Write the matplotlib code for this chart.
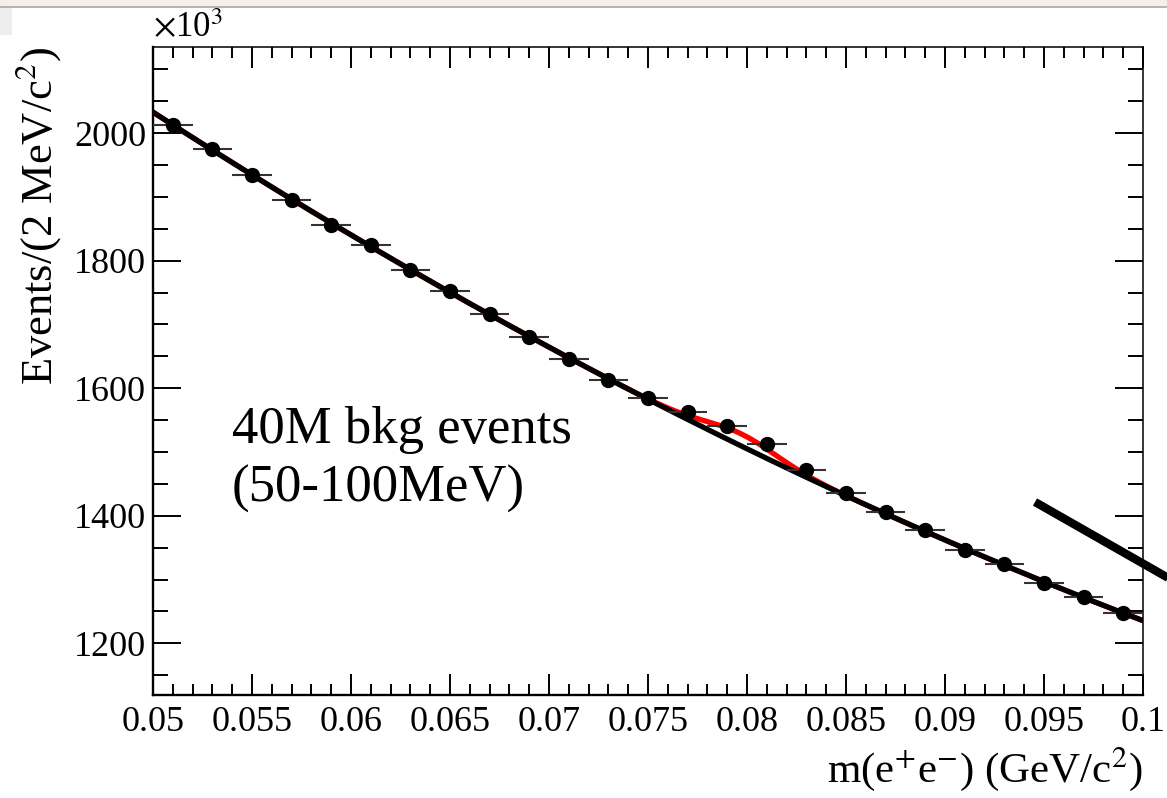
import numpy as np
import matplotlib
matplotlib.use("Agg")
import matplotlib.pyplot as plt
from matplotlib.lines import Line2D
from matplotlib.patches import Rectangle
from matplotlib.ticker import MultipleLocator

plt.rcParams['font.family'] = ['Liberation Serif', 'DejaVu Serif']
plt.rcParams['mathtext.fontset'] = 'stix'

# --- data (events in units of 10^3 per 2 MeV bin) ---
mass = np.array([0.051, 0.053, 0.055, 0.057, 0.059, 0.061, 0.063, 0.065, 0.067,
                 0.069, 0.071, 0.073, 0.075, 0.077, 0.079, 0.081, 0.083, 0.085,
                 0.087, 0.089, 0.091, 0.093, 0.095, 0.097, 0.099])
counts = np.array([2012.5, 1975, 1935, 1895, 1856, 1825, 1786, 1752, 1716,
                   1680, 1646, 1613, 1584, 1562, 1540, 1512, 1471, 1435,
                   1406, 1378, 1347, 1324, 1294, 1272, 1247])
bin_half = 0.001

# signal shape parameters for the red (sig+bkg) curve
sig_mean = 0.0797
sig_width = 0.0018
sig_amp = 19.0

# --- fits ---
sideband = (mass < 0.075) | (mass > 0.085)
bkg_coef = np.polyfit(mass[sideband], counts[sideband], 2)
xf = np.linspace(0.05, 0.1, 500)
bkg = np.polyval(bkg_coef, xf)
total = bkg + sig_amp * np.exp(-0.5 * ((xf - sig_mean) / sig_width) ** 2)

# --- figure ---
fig = plt.figure(figsize=(11.67, 7.98), dpi=100)
ax = fig.add_axes([0.1311, 0.1291, 0.8483, 0.812])

ax.plot(xf, total, color='red', lw=3.8, zorder=2)
ax.plot(xf, bkg, color='black', lw=3.8, zorder=3)
ax.errorbar(mass, counts, xerr=bin_half, fmt='o', color='black', ms=10,
            ecolor='#333333', elinewidth=1.5, capsize=0, zorder=4)

ax.set_xlim(0.05, 0.1)
ax.set_ylim(1119, 2135)

ax.xaxis.set_minor_locator(MultipleLocator(0.001))
ax.yaxis.set_major_locator(MultipleLocator(200))
ax.yaxis.set_minor_locator(MultipleLocator(50))
ax.set_xticks([0.05, 0.055, 0.06, 0.065, 0.07, 0.075, 0.08, 0.085, 0.09, 0.095, 0.1])
ax.set_xticklabels(['0.05', '0.055', '0.06', '0.065', '0.07', '0.075', '0.08',
                    '0.085', '0.09', '0.095', '0.1'])

ax.tick_params(axis='both', which='both', direction='in', top=True, right=True,
               width=1.4, labelsize=26)
ax.tick_params(axis='x', which='major', length=15, pad=8)
ax.tick_params(axis='x', which='minor', length=8)
ax.tick_params(axis='y', which='major', length=20, pad=5)
ax.tick_params(axis='y', which='minor', length=11)
for s in ['left', 'bottom']:
    ax.spines[s].set_linewidth(1.7)
for s in ['top', 'right']:
    ax.spines[s].set_linewidth(1.1)

ax.set_xlabel(r'm(e$^{+}$e$^{-}$) (GeV/c$^{2}$)', fontsize=31, loc='right')
ax.set_ylabel(r'Events/(2 MeV/c$^{2}$)', fontsize=32, loc='top', labelpad=8)
ax.text(0.0, 1.003, r'$\times$10$^{3}$', transform=ax.transAxes, fontsize=25,
        ha='left', va='bottom')

ax.text(0.0798, 0.3889, '40M bkg events', transform=ax.transAxes, fontsize=38,
        ha='left', va='baseline')
ax.text(0.0798, 0.2978, '(50-100MeV)', transform=ax.transAxes, fontsize=38,
        ha='left', va='baseline')

# arrow stroke leaving the frame on the right
W, H = 1167.0, 798.0
x0, y0, x1 = 1035, 502, 1200
y1 = y0 + 0.57 * (x1 - x0)
fig.add_artist(Line2D([x0 / W, x1 / W], [1 - y0 / H, 1 - y1 / H], color='black',
                      lw=6, solid_capstyle='butt'))

# screenshot strip on top
fig.add_artist(Rectangle((0, 1 - 6 / H), 1, 6 / H, transform=fig.transFigure,
                         facecolor='#f4f0e6', edgecolor='none'))
fig.add_artist(Line2D([0, 1], [1 - 6.5 / H, 1 - 6.5 / H], color='#a8a8a8', lw=1.2))
fig.add_artist(Rectangle((0, 1 - 35 / H), 12 / W, 29 / H, transform=fig.transFigure,
                         facecolor='#eeeeee', edgecolor='none'))

fig.savefig('out.png', dpi=100)
